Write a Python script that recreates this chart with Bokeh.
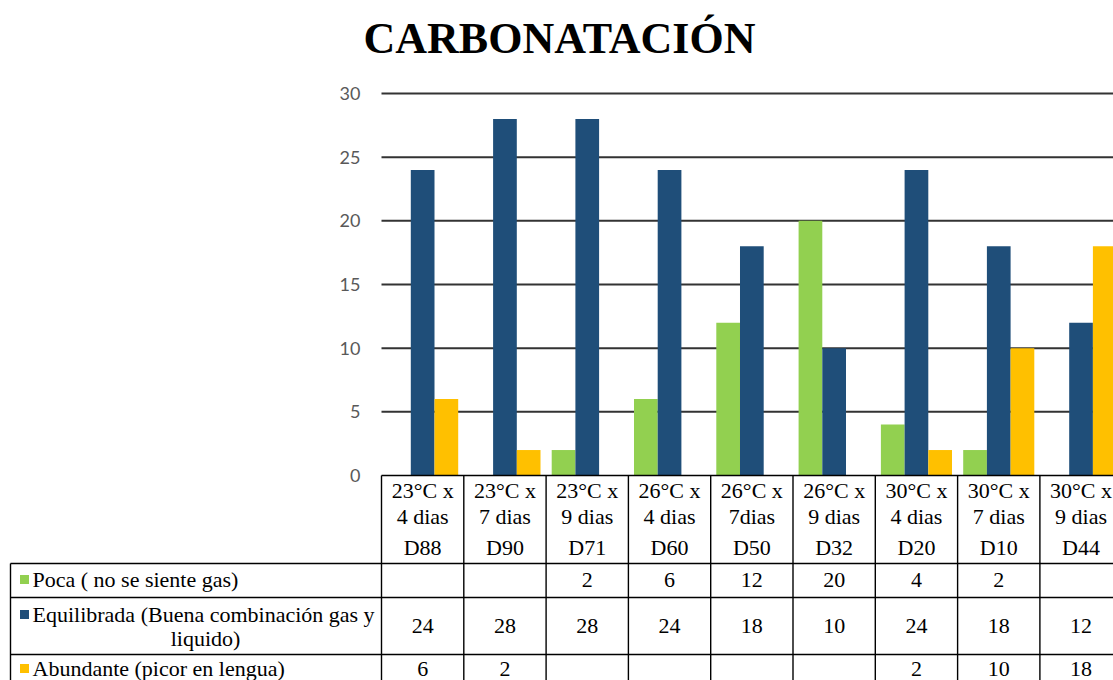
from bokeh.plotting import figure
from bokeh.models import Range1d
from bokeh.core.properties import value
from bokeh.embed import file_html
from bokeh.resources import INLINE

# ---------------- data ----------------
title = "CARBONATACIÓN"
cat_line1 = ["23°C x", "23°C x", "23°C x", "26°C x", "26°C x", "26°C x", "30°C x", "30°C x", "30°C x"]
cat_line2 = ["4 dias", "7 dias", "9 dias", "4 dias", "7dias", "9 dias", "4 dias", "7 dias", "9 dias"]
cat_code = ["D88", "D90", "D71", "D60", "D50", "D32", "D20", "D10", "D44"]

series_names = ["Poca ( no se siente gas)",
                "Equilibrada (Buena combinación gas y",
                "Abundante (picor en lengua)"]
series_name_wrap = "liquido)"
poca = [None, None, 2, 6, 12, 20, 4, 2, None]
equilibrada = [24, 28, 28, 24, 18, 10, 24, 18, 12]
abundante = [6, 2, None, None, None, None, 2, 10, 18]
y_ticks = [0, 5, 10, 15, 20, 25, 30]

colors = ["#92D050", "#1F4E79", "#FFC000"]

# ---------------- layout helpers (page px -> data units) ----------------
W, H = 1113, 680
CAT_PX = 82.3
UNIT_PX = 12.733


def fx(px):
    return (px - 381.0) / CAT_PX


def fy(py):
    return (475.0 - py) / UNIT_PX


p = figure(width=W, height=H, output_backend="svg", toolbar_location=None,
           x_range=Range1d(fx(0), fx(W)), y_range=Range1d(fy(H), fy(0)),
           x_axis_location=None, y_axis_location=None,
           min_border=0, min_border_left=0, min_border_right=0,
           min_border_top=0, min_border_bottom=0)
p.outline_line_color = None
p.grid.visible = False
p.background_fill_color = "white"
p.border_fill_color = "white"

serif = value("Liberation Serif")
n = len(cat_code)
x_far = fx(1300)

# gridlines
gv = [t for t in y_ticks if t > 0]
p.segment(x0=[0] * len(gv), x1=[x_far] * len(gv), y0=gv, y1=gv,
          line_color="#333333", line_width=2)

# bars
bw = 0.288
for k, (vals, col) in enumerate(zip([poca, equilibrada, abundante], colors)):
    xs = [i + 0.5 + (k - 1) * bw for i, v in enumerate(vals) if v is not None]
    tops = [v for v in vals if v is not None]
    p.vbar(x=xs, top=tops, bottom=0, width=bw, fill_color=col, line_color=None)

# y tick labels
p.text(x=[fx(360)] * len(y_ticks), y=y_ticks, text=[str(t) for t in y_ticks],
       text_font=value("Lato"), text_font_size="18px", text_color="#595959",
       text_align="right", text_baseline="middle")

# title (vertical middle of capitals)
p.text(x=[fx(559)], y=[fy(38)], text=[title], text_font=serif,
       text_font_size="44px", text_font_style="bold", text_color="black",
       text_align="center", text_baseline="middle")

# ---------------- data table ----------------
row_top = [563, 597, 654]          # top borders of the three data rows (page px)
bottom = H + 20
lc = "#000000"
lw = 1.4
# horizontal lines
p.segment(x0=[0], x1=[x_far], y0=[0], y1=[0], line_color=lc, line_width=lw)
p.segment(x0=[fx(10)] * 3, x1=[x_far] * 3, y0=[fy(r) for r in row_top],
          y1=[fy(r) for r in row_top], line_color=lc, line_width=lw)
# vertical lines
p.segment(x0=list(range(n + 1)), x1=list(range(n + 1)), y0=[0] * (n + 1),
          y1=[fy(bottom)] * (n + 1), line_color=lc, line_width=lw)
p.segment(x0=[fx(10)], x1=[fx(10)], y0=[fy(563)], y1=[fy(bottom)],
          line_color=lc, line_width=lw)

centers = [i + 0.5 for i in range(n)]
tf = "22px"
for lines, mid in ((cat_line1, 490), (cat_line2, 516), (cat_code, 547)):
    p.text(x=centers, y=[fy(mid)] * n, text=lines, text_font=serif,
           text_font_size=tf, text_color="black", text_align="center",
           text_baseline="middle")

# row labels with legend keys
key_y = [579, 614, 668]
p.scatter(x=[fx(24)] * 3, y=[fy(v) for v in key_y], marker="square", size=9,
          fill_color=colors, line_color=None)
label_mid = [579, 614, 668]
p.text(x=[fx(32)] * 3, y=[fy(b) for b in label_mid], text=series_names,
       text_font=serif, text_font_size=tf, text_color="black",
       text_align="left", text_baseline="middle")
p.text(x=[fx(205)], y=[fy(638)], text=[series_name_wrap], text_font=serif,
       text_font_size=tf, text_color="black", text_align="center",
       text_baseline="middle")

# cell values
val_mid = [579, 625, 668]
for vals, mid in zip([poca, equilibrada, abundante], val_mid):
    xs = [i + 0.5 for i, v in enumerate(vals) if v is not None]
    txt = [str(v) for v in vals if v is not None]
    p.text(x=xs, y=[fy(mid)] * len(xs), text=txt, text_font=serif,
           text_font_size=tf, text_color="black", text_align="center",
           text_baseline="middle")

open("out.html", "w").write(file_html(p, INLINE))
